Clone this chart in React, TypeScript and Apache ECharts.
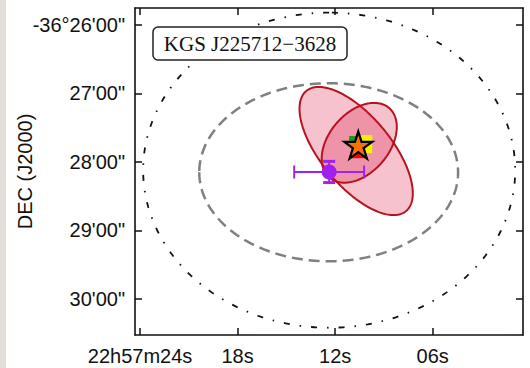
import React, { useEffect, useRef } from "react";
import * as echarts from "echarts";

// Axis ticks: RA seconds past 22h57m, Dec arcminutes past -36°
const RA_TICKS = [24, 18, 12, 6];
const DEC_TICKS = [26, 27, 28, 29, 30];

// Plot window (RA seconds, Dec arcminutes)
const RA_RANGE = [0.45, 24.31];
const DEC_RANGE = [25.752, 30.526];

// Ellipses: [RA s, Dec ', semi-major ", semi-minor ", position angle deg]
const X_ERR_ELLIPSE_1 = [10.71, 27.84, 64.5, 27.5, 33];
const X_ERR_ELLIPSE_2 = [10.52, 27.72, 38, 23.5, 150];
const SEARCH_ELLIPSE = [12.4, 28.15, 96, 78, 90];
const OUTER_CIRCLE = [12.37, 28.12, 138, 138, 0];

// Optical position with errors: [RA s, Dec ', RA err s, Dec err ']
const OPTICAL_POS = [12.37, 28.146, 2.15, 0.155];

// Counterpart markers: [RA s, Dec ']
const GREEN_POS = [10.9, 27.68];
const RED_POS = [10.58, 27.85];
const YELLOW_POS = [10.09, 27.74];
const STAR_POS = [10.58, 27.752];

const LABEL_TEXT = "KGS J225712\u22123628";

const DEC_DEG = -36.47;
const ARCSEC_PER_SEC = 15 * Math.cos((DEC_DEG * Math.PI) / 180);

function starSymbol(): string {
  const pts: string[] = [];
  for (let i = 0; i < 10; i++) {
    const ang = ((-90 + i * 36) * Math.PI) / 180;
    const r = i % 2 === 0 ? 1 : 0.382;
    pts.push(`${(r * Math.cos(ang)).toFixed(4)} ${(r * Math.sin(ang)).toFixed(4)}`);
  }
  return "path://M" + pts.join(" L") + " Z";
}

function ellipseSeries(item: number[], style: any, z: number) {
  return {
    type: "custom",
    z,
    clip: true,
    encode: { x: 0, y: 1 },
    data: [item],
    renderItem: (_params: any, api: any) => {
      const ra = api.value(0);
      const dec = api.value(1);
      const a = api.value(2);
      const b = api.value(3);
      const pa = (api.value(4) * Math.PI) / 180;
      const points: number[][] = [];
      const n = 240;
      for (let k = 0; k <= n; k++) {
        const t = (2 * Math.PI * k) / n;
        const east = a * Math.cos(t) * Math.sin(pa) + b * Math.sin(t) * Math.cos(pa);
        const north = a * Math.cos(t) * Math.cos(pa) - b * Math.sin(t) * Math.sin(pa);
        points.push(api.coord([ra + east / ARCSEC_PER_SEC, dec - north / 60]));
      }
      return { type: "polygon", shape: { points }, style };
    },
  };
}

const AXIS_FONT = "Liberation Sans";
const FRAME = { show: true, lineStyle: { color: "#111", width: 1.6 } };

export default function App() {
  const ref = useRef<HTMLDivElement>(null);

  useEffect(() => {
    if (!ref.current) return;
    const chart = echarts.init(ref.current, undefined, { renderer: "svg" });
    const purple = "#a020f0";

    const xTick = { show: true, inside: true, length: 7, customValues: RA_TICKS, lineStyle: { color: "#111", width: 1.5 } };
    const yTick = { show: true, inside: true, length: 7, customValues: DEC_TICKS, lineStyle: { color: "#111", width: 1.5 } };

    chart.setOption({
      animation: false,
      backgroundColor: "#ffffff",
      grid: { left: 135, right: 7, top: 8, bottom: 33, containLabel: false, outerBoundsMode: "none" },
      xAxis: [
        {
          type: "value",
          min: RA_RANGE[0],
          max: RA_RANGE[1],
          inverse: true,
          position: "bottom",
          axisLine: FRAME,
          axisTick: xTick,
          splitLine: { show: false },
          axisLabel: {
            customValues: RA_TICKS,
            margin: 11,
            fontFamily: AXIS_FONT,
            fontSize: 20,
            color: "#111",
            formatter: (v: number) => {
              const s = Math.round(v);
              return s === 24 ? "22h57m24s" : String(s).padStart(2, "0") + "s";
            },
          },
        },
        {
          type: "value",
          min: RA_RANGE[0],
          max: RA_RANGE[1],
          inverse: true,
          position: "top",
          axisLine: FRAME,
          axisTick: xTick,
          splitLine: { show: false },
          axisLabel: { show: false },
        },
      ],
      yAxis: [
        {
          type: "value",
          min: DEC_RANGE[0],
          max: DEC_RANGE[1],
          inverse: true,
          position: "left",
          axisLine: FRAME,
          axisTick: yTick,
          splitLine: { show: false },
          name: "DEC (J2000)",
          nameLocation: "middle",
          nameRotate: 90,
          nameGap: 100,
          nameMoveOverlap: false,
          nameTextStyle: { fontFamily: AXIS_FONT, fontSize: 20, color: "#111" },
          axisLabel: {
            customValues: DEC_TICKS,
            margin: 10,
            fontFamily: AXIS_FONT,
            fontSize: 20,
            color: "#111",
            formatter: (v: number) => {
              const m = Math.round(v);
              return m === 26 ? "-36°26'00\"" : `${m}'00"`;
            },
          },
        },
        {
          type: "value",
          min: DEC_RANGE[0],
          max: DEC_RANGE[1],
          inverse: true,
          position: "right",
          axisLine: FRAME,
          axisTick: yTick,
          splitLine: { show: false },
          axisLabel: { show: false },
        },
      ],
      graphic: [
        {
          type: "rect",
          left: 0,
          top: 0,
          shape: { width: 6, height: 368 },
          style: { fill: "#e3ded7" },
          z: 0,
        },
        {
          type: "rect",
          x: 153,
          y: 27,
          z: 100,
          shape: { width: 194, height: 33, r: 5 },
          style: { fill: "#ffffff", stroke: "#222", lineWidth: 1.5 },
        },
        {
          type: "text",
          x: 250,
          y: 44,
          z: 101,
          style: {
            text: LABEL_TEXT,
            fontFamily: "Liberation Serif",
            fontSize: 21,
            fill: "#111",
            align: "center",
            verticalAlign: "middle",
          },
        },
      ],
      series: [
        ellipseSeries(X_ERR_ELLIPSE_1, { fill: "rgba(220,20,60,0.26)", stroke: "#b5141f", lineWidth: 2 }, 2),
        ellipseSeries(X_ERR_ELLIPSE_2, { fill: "rgba(220,20,60,0.26)", stroke: "#b5141f", lineWidth: 2 }, 3),
        ellipseSeries(SEARCH_ELLIPSE, { fill: "none", stroke: "#808080", lineWidth: 2.5, lineDash: [11, 6] }, 4),
        ellipseSeries(OUTER_CIRCLE, { fill: "none", stroke: "#111", lineWidth: 1.8, lineDash: [6, 10, 1.5, 10] }, 4),
        {
          type: "custom",
          z: 6,
          encode: { x: 0, y: 1 },
          data: [OPTICAL_POS],
          renderItem: (_p: any, api: any) => {
            const ra = api.value(0);
            const dec = api.value(1);
            const dra = api.value(2);
            const ddec = api.value(3);
            const c = api.coord([ra, dec]);
            const l = api.coord([ra + dra, dec]);
            const r = api.coord([ra - dra, dec]);
            const t = api.coord([ra, dec - ddec]);
            const b = api.coord([ra, dec + ddec]);
            const st = { stroke: purple, lineWidth: 2 };
            const cap = { stroke: purple, lineWidth: 3 };
            return {
              type: "group",
              children: [
                { type: "line", shape: { x1: l[0], y1: c[1], x2: r[0], y2: c[1] }, style: st },
                { type: "line", shape: { x1: c[0], y1: t[1], x2: c[0], y2: b[1] }, style: st },
                { type: "line", shape: { x1: l[0], y1: c[1] - 6.5, x2: l[0], y2: c[1] + 6.5 }, style: st },
                { type: "line", shape: { x1: r[0], y1: c[1] - 6.5, x2: r[0], y2: c[1] + 6.5 }, style: st },
                { type: "line", shape: { x1: c[0] - 6, y1: t[1], x2: c[0] + 6, y2: t[1] }, style: cap },
                { type: "line", shape: { x1: c[0] - 6, y1: b[1], x2: c[0] + 6, y2: b[1] }, style: cap },
              ],
            };
          },
        },
        {
          type: "scatter",
          z: 7,
          data: [OPTICAL_POS.slice(0, 2)],
          symbol: "circle",
          symbolSize: 15,
          itemStyle: { color: purple, opacity: 1 },
        },
        {
          type: "scatter",
          z: 8,
          data: [GREEN_POS],
          symbol: "rect",
          symbolSize: 8,
          itemStyle: { color: "#1a9a1a", opacity: 1 },
        },
        {
          type: "scatter",
          z: 9,
          data: [RED_POS],
          symbol: "rect",
          symbolSize: 13,
          itemStyle: { color: "#ff0000", opacity: 1 },
        },
        {
          type: "scatter",
          z: 10,
          data: [YELLOW_POS],
          symbol: "rect",
          symbolSize: [12, 18],
          itemStyle: { color: "#f5f000", opacity: 1 },
        },
        {
          type: "scatter",
          z: 11,
          data: [STAR_POS],
          symbol: starSymbol(),
          symbolSize: [28, 27],
          itemStyle: { color: "#f5720a", borderColor: "#000", borderWidth: 2.2, opacity: 1 },
        },
      ],
    });

    return () => chart.dispose();
  }, []);

  return (
    <div
      ref={ref}
      style={{ position: "fixed", left: 0, top: 0, width: 530, height: 368, background: "#fff" }}
    />
  );
}
